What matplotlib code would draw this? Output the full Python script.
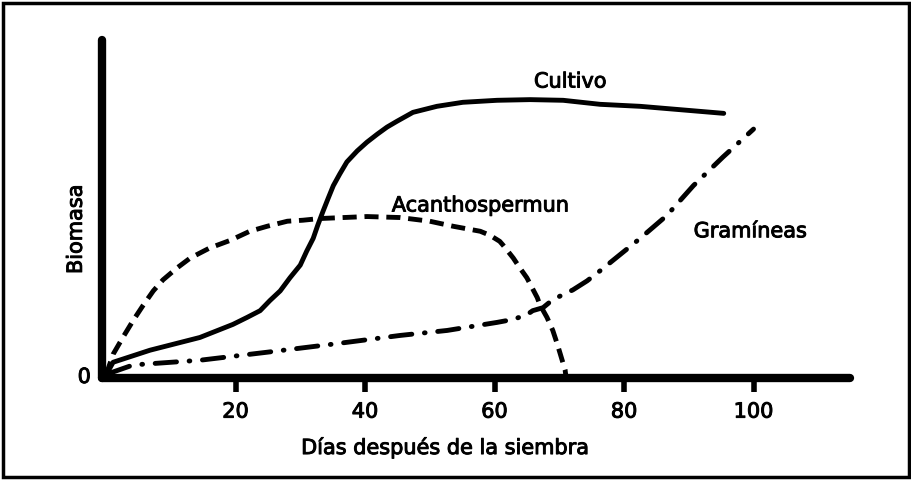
import matplotlib.pyplot as plt
import matplotlib.patheffects as pe
from matplotlib.patches import Rectangle

# valores (dias, biomasa relativa)
dias_cultivo = [0, 1.1, 6.8, 14.5, 19.6, 21.8, 23.8, 25.3, 26.9, 28.4, 30, 31, 32, 32.7, 33.5,
                34.3, 35.1, 36.1, 37.2, 38.8, 40.3, 41.9, 43.4, 44.9, 47.4, 51.1, 55.1, 60.4,
                65.5, 70.6, 76.3, 82.5, 95.4]
cultivo = [0, 3.8, 7.4, 11.2, 15.1, 17.2, 19.2, 22.2, 25.1, 29, 32.8, 37, 40.8, 44.7, 48.8,
           52.7, 56.5, 60, 63.6, 66.9, 69.5, 71.9, 74, 75.7, 78.4, 80.2, 81.4, 82,
           82.2, 82, 80.8, 80.2, 78.1]

dias_acanto = [0, 1.1, 2.6, 4.2, 5.7, 7.3, 8.8, 11, 13, 16, 19.2, 22.2, 24.9, 28, 30.4, 33,
               40.3, 45.4, 50, 53.6, 57.8, 59.3, 60.8, 61.3, 62.9, 63.9, 65, 66.6, 67, 68.1,
               69, 69.7, 70.9, 71]
acanto = [0, 6.2, 11.2, 16.3, 20.7, 25.1, 28.4, 32, 34.9, 37.9, 40.2, 42.9, 44.4, 45.9, 46.2,
          46.7, 47.3, 47, 45.9, 44.4, 42.9, 41.7, 39.9, 38.8, 34.9, 32, 29, 23.1, 21, 17.2,
          13.3, 9.2, 1.5, 0]

dias_gram = [0.5, 4.2, 14.5, 24.9, 35, 45.4, 52.7, 60.4, 62.9, 65, 65.9, 67.5, 69, 72.1,
             74.3, 76.3, 82.5, 86.6, 90.7, 95.3, 100]
gram = [0.5, 3, 4.4, 6.8, 9.2, 11.8, 13.3, 15.7, 16.6, 18, 19.2, 20.1, 22.5, 25.4,
        28.1, 31.1, 40.8, 47.6, 56.5, 65.1, 73.4]

xticks = [20, 40, 60, 80, 100]

plt.rcParams['font.family'] = 'DejaVu Sans'
fs = 15
grueso = [pe.withStroke(linewidth=0.7, foreground='black')]

fig = plt.figure(figsize=(9.12, 4.8), dpi=100)
fig.patches.append(Rectangle((0.003, 0.006), 0.994, 0.988, transform=fig.transFigure,
                             fill=False, edgecolor='black', linewidth=2.5))

ax = fig.add_axes([102/912, 102/480, 748/912, 338/480])
ax.set_xlim(-0.62, 114.9)
ax.set_ylim(-0.9, 100)

ax.plot(dias_cultivo, cultivo, color='black', lw=3.5, solid_capstyle='round',
        solid_joinstyle='round', clip_on=False)
ax.plot(dias_acanto, acanto, color='black', lw=3.5, linestyle=(0, (2.9, 1.6)),
        dash_joinstyle='round', clip_on=False)
ax.plot(dias_gram, gram, color='black', lw=3.5, linestyle=(0, (4.4, 2.6, 0.15, 2.6)),
        dash_capstyle='round', dash_joinstyle='round', clip_on=False)

ax.text(71.7, 87.6, 'Cultivo', fontsize=fs, ha='center', va='center', path_effects=grueso)
ax.text(57.8, 50.6, 'Acanthospermun', fontsize=fs, ha='center', va='center',
        path_effects=grueso)
ax.text(99.5, 42.9, 'Gramíneas', fontsize=fs, ha='center', va='center', path_effects=grueso)

for s in ['top', 'right']:
    ax.spines[s].set_visible(False)
for s in ['left', 'bottom']:
    ax.spines[s].set_linewidth(6)
    ax.spines[s].set_capstyle('round')

ax.set_xticks(xticks)
ax.set_xticklabels([str(t) for t in xticks], fontsize=fs)
ax.set_yticks([0])
ax.set_yticklabels(['0'], fontsize=fs)
for t in ax.get_xticklabels() + ax.get_yticklabels():
    t.set_path_effects(grueso)
ax.tick_params(axis='x', length=10, width=4, pad=7)
ax.tick_params(axis='y', length=0, pad=8)

ax.text(-0.035, 0.44, 'Biomasa', fontsize=fs, rotation=90, ha='center', va='center',
        transform=ax.transAxes, path_effects=grueso)
ax.text(0.459, -0.205, 'Días después de la siembra', fontsize=fs, ha='center', va='center',
        transform=ax.transAxes, path_effects=grueso)

fig.savefig('out.png', dpi=100)
